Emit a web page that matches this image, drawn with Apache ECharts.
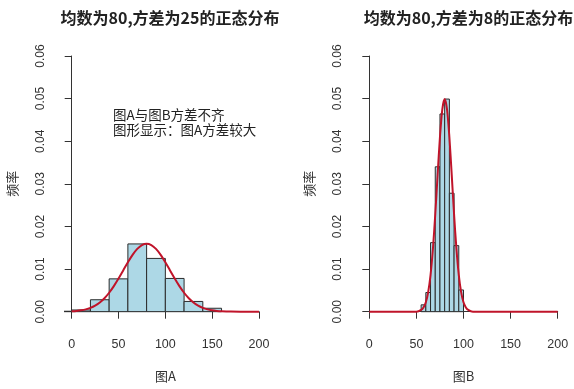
<!DOCTYPE html>
<html>
<head>
<meta charset="utf-8">
<script src="https://cdn.jsdelivr.net/npm/echarts@6/dist/echarts.min.js"></script>
<style>
html,body{margin:0;padding:0;background:#fff;}
#c{width:574px;height:389px;}
</style>
</head>
<body>
<div id="c"></div>
<script>
// ---- Data ----
const titleA = '均数为80,方差为25的正态分布';
const titleB = '均数为80,方差为8的正态分布';
const xLabelA = '图A';
const xLabelB = '图B';
const yLabel = '频率';
const note = '图A与图B方差不齐\n图形显示：图A方差较大';

const xTicks = [0, 50, 100, 150, 200];
const yTicks = [0, 0.01, 0.02, 0.03, 0.04, 0.05, 0.06];

// Histogram A (bin width 20)
const binStartA = [-20, 0, 20, 40, 60, 80, 100, 120, 140];
const binEndA   = [0, 20, 40, 60, 80, 100, 120, 140, 160];
const densA     = [0.0001, 0.0004, 0.0028, 0.0077, 0.0159, 0.0125, 0.0078, 0.0024, 0.0008];

// Histogram B (bin width 5)
const binStartB = [55, 60, 65, 70, 75, 80, 85, 90, 95];
const binEndB   = [60, 65, 70, 75, 80, 85, 90, 95, 100];
const densB     = [0.0016, 0.0045, 0.0162, 0.0340, 0.0464, 0.0499, 0.0278, 0.0155, 0.0051];

// Curve A points
const curveAX = [0, 5, 10, 15, 20, 25, 30, 35, 40, 45, 50, 55, 60, 65, 70, 75, 80, 85, 90, 95, 100, 105, 110, 115, 120, 125, 130, 135, 140, 145, 150, 155, 160, 170, 180, 190, 200];
const curveAY = [0.0001, 0.00018, 0.00032, 0.00054, 0.0009, 0.00142, 0.00216, 0.00316, 0.00444, 0.00599, 0.00777, 0.00968, 0.01159, 0.01333, 0.01473, 0.01564, 0.01596, 0.01564, 0.01473, 0.01333, 0.01159, 0.00968, 0.00777, 0.00599, 0.00444, 0.00316, 0.00216, 0.00142, 0.0009, 0.00054, 0.00032, 0.00018, 0.0001, 0.00002, 0, 0, 0];

// Curve B points
const curveBX = [0, 25, 50, 55, 57.5, 60, 62.5, 65, 67.5, 70, 72.5, 75, 77.5, 80, 82.5, 85, 87.5, 90, 92.5, 95, 97.5, 100, 102.5, 105, 110, 150, 200];
const curveBY = [0, 0, 0, 0.0004, 0.0010, 0.0022, 0.0046, 0.0086, 0.0147, 0.0228, 0.0321, 0.0410, 0.0475, 0.0499, 0.0475, 0.0410, 0.0321, 0.0228, 0.0147, 0.0086, 0.0046, 0.0022, 0.0010, 0.0004, 0, 0, 0];

// ---- Build ----
const histA = binStartA.map((s, i) => [s, binEndA[i], densA[i]]);
const histB = binStartB.map((s, i) => [s, binEndB[i], densB[i]]);
const lineA = curveAX.map((x, i) => [x, curveAY[i]]);
const lineB = curveBX.map((x, i) => [x, curveBY[i]]);

const FONT = '"Liberation Sans", Arial, "Noto Sans CJK SC", sans-serif';
const CJK = '"Noto Sans CJK SC", "Liberation Sans", sans-serif';
const AX = '#333';

function renderBar(params, api) {
  const p0 = api.coord([api.value(0), 0]);
  const p1 = api.coord([api.value(1), api.value(2)]);
  return {
    type: 'rect',
    shape: { x: p0[0], y: p1[1], width: p1[0] - p0[0], height: p0[1] - p1[1] },
    style: { fill: '#ADD8E6', stroke: '#2b2b2b', lineWidth: 1 }
  };
}

function dataX(gi) {
  return { type: 'value', gridIndex: gi, min: -8, max: 208, show: false };
}
function dataY(gi) {
  return { type: 'value', gridIndex: gi, min: -0.0024, max: 0.0624, show: false };
}
function dispX(gi, name) {
  return {
    type: 'value', gridIndex: gi, min: xTicks[0], max: xTicks[xTicks.length - 1], interval: 50,
    offset: 10,
    axisLine: { show: true, lineStyle: { color: AX, width: 1 } },
    axisTick: { show: true, length: 7, lineStyle: { color: AX } },
    axisLabel: { show: true, fontFamily: FONT, fontSize: 12.5, color: '#333', margin: 17 },
    splitLine: { show: false },
    name: name, nameLocation: 'middle', nameGap: 48,
    nameTextStyle: { fontFamily: CJK, fontSize: 13, color: '#333' }
  };
}
function dispY(gi) {
  return {
    type: 'value', gridIndex: gi, min: yTicks[0], max: yTicks[yTicks.length - 1], interval: 0.01,
    offset: 7.5,
    axisLine: { show: true, lineStyle: { color: AX, width: 1 } },
    axisTick: { show: true, length: 7, lineStyle: { color: AX } },
    axisLabel: { show: true, rotate: 90, fontFamily: FONT, fontSize: 12, color: '#333', margin: 18,
      formatter: v => v.toFixed(2) },
    splitLine: { show: false },
    name: yLabel, nameLocation: 'middle', nameGap: 46, nameRotate: 90,
    nameTextStyle: { fontFamily: CJK, fontSize: 13, color: '#333' }
  };
}

const chart = echarts.init(document.getElementById('c'), null, { renderer: 'canvas' });
chart.setOption({
  animation: false,
  backgroundColor: '#fff',
  title: [
    { text: titleA, left: 165, top: 5, textAlign: 'center',
      textStyle: { fontFamily: CJK, fontSize: 16, fontWeight: 'bold', color: '#222' } },
    { text: titleB, left: 463.5, top: 5, textAlign: 'center',
      textStyle: { fontFamily: CJK, fontSize: 16, fontWeight: 'bold', color: '#222' } }
  ],
  grid: [
    { left: 64.2, top: 45.8, width: 202.3, height: 276.1 },
    { left: 71.7, top: 56, width: 187.3, height: 255.7 },
    { left: 361.8, top: 45.8, width: 203.4, height: 276.1 },
    { left: 369.3, top: 56, width: 188.4, height: 255.7 }
  ],
  xAxis: [dataX(0), dispX(1, xLabelA), dataX(2), dispX(3, xLabelB)],
  yAxis: [dataY(0), dispY(1), dataY(2), dispY(3)],
  graphic: [
    { type: 'text', left: 113, top: 107,
      style: { text: note, fontFamily: CJK, fontSize: 13.5, lineHeight: 15.5, fill: '#222' } }
  ],
  series: [
    { type: 'custom', xAxisIndex: 0, yAxisIndex: 0, data: histA, renderItem: renderBar, clip: true,
      encode: { x: [0, 1], y: 2 }, z: 2 },
    { type: 'line', xAxisIndex: 0, yAxisIndex: 0, data: lineA, showSymbol: false, smooth: 0.3,
      lineStyle: { color: '#C0142A', width: 2 }, z: 3 },
    { type: 'custom', xAxisIndex: 2, yAxisIndex: 2, data: histB, renderItem: renderBar, clip: true,
      encode: { x: [0, 1], y: 2 }, z: 2 },
    { type: 'line', xAxisIndex: 2, yAxisIndex: 2, data: lineB, showSymbol: false, smooth: 0.3,
      lineStyle: { color: '#C0142A', width: 2 }, z: 3 }
  ]
});
</script>
</body>
</html>
